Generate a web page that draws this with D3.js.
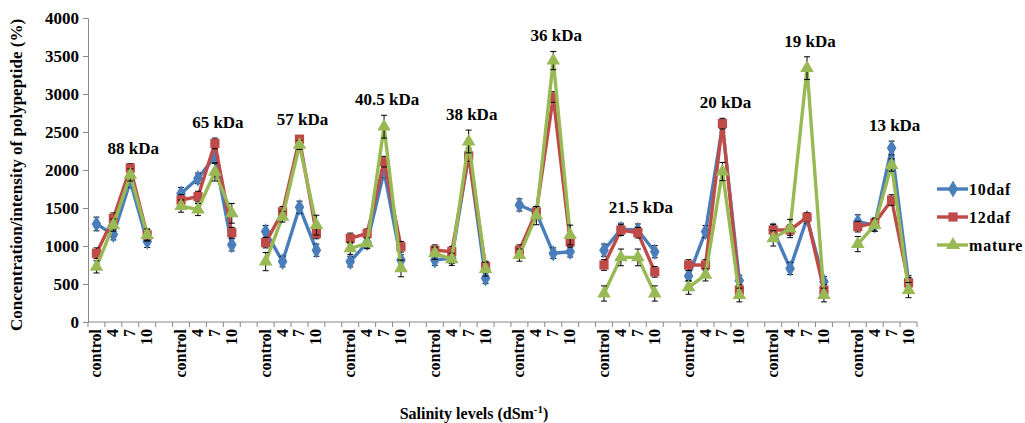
<!DOCTYPE html>
<html>
<head>
<meta charset="utf-8">
<script src="https://cdn.jsdelivr.net/npm/d3@7"></script>
<style>
    body { margin: 0; background: #fff; }
</style>
</head>
<body>
<div id="chart"></div>
<script>

// polypeptide bands (one group of salinity levels each)
let bands = ["88 kDa", "65 kDa", "57 kDa", "40.5 kDa", "38 kDa", "36 kDa", "21.5 kDa", "20 kDa", "19 kDa", "13 kDa"];
let levels = ["control", "4", "7", "10"];
let seriesNames = ["10daf", "12daf", "mature"];

// values, 4 per band in level order
let tenDaf = [
    1290, 1150, 1850, 1060,
    1690, 1890, 2175, 1015,
    1190, 795, 1510, 945,
    795, 1045, 1980, 815,
    815, 840, 2200, 575,
    1540, 1440, 905, 925,
    945, 1220, 1210, 925,
    605, 1190, 2580, 545,
    1210, 705, 1365, 530,
    1320, 1275, 2290, 530];
let twelveDaf = [
    905, 1365, 2025, 1145,
    1605, 1650, 2350, 1175,
    1045, 1450, 2405, 1165,
    1100, 1165, 2110, 990,
    945, 925, 2185, 730,
    945, 1450, 2960, 1055,
    750, 1210, 1175, 660,
    750, 750, 2610, 420,
    1210, 1210, 1380, 420,
    1255, 1300, 1605, 515];
let mature = [
    725, 1275, 1935, 1145,
    1525, 1480, 1975, 1430,
    795, 1385, 2330, 1275,
    970, 1035, 2570, 705,
    905, 825, 2375, 695,
    880, 1400, 3440, 1145,
    375, 850, 850, 375,
    455, 620, 1980, 355,
    1100, 1230, 3340, 355,
    1025, 1275, 2065, 420];

// error bar half lengths
let tenDafErr = [
    90, 70, 80, 80, 80, 70, 90, 80, 80, 70, 80, 80, 70, 70, 80, 70, 70, 70, 80, 70,
    80, 80, 70, 70, 80, 80, 80, 80, 70, 80, 80, 70, 80, 80, 70, 70, 90, 80, 90, 80];
let twelveDafErr = [
    70, 70, 60, 70, 70, 70, 70, 70, 70, 70, 50, 70, 70, 60, 70, 70, 70, 70, 70, 70,
    70, 70, 70, 70, 70, 70, 70, 70, 70, 70, 70, 70, 70, 70, 60, 70, 70, 70, 70, 70];
let matureErr = [
    80, 80, 80, 80, 80, 80, 120, 130, 120, 70, 60, 130, 80, 70, 150, 110, 80, 80, 150, 90,
    80, 120, 120, 130, 100, 110, 110, 100, 90, 80, 120, 90, 100, 120, 150, 90, 100, 80, 80, 100];

let yTicks = [0, 500, 1000, 1500, 2000, 2500, 3000, 3500, 4000];

let serif = "'Liberation Serif', 'DejaVu Serif', serif";


class LineChart {

    constructor(parentElement) {
        this.parentElement = parentElement;
        this.colors = ["#4a7ebb", "#be4b48", "#98b954"];
        this.shapes = [d3.symbolDiamond, d3.symbolSquare, d3.symbolTriangle];
        this.initVis();
    }

    initVis() {
        let vis = this;

        vis.width = 1025;
        vis.height = 423;
        vis.plot = {left: 88, right: 917, top: 18, bottom: 322};

        vis.svg = d3.select("#" + vis.parentElement).append("svg")
            .attr("width", vis.width)
            .attr("height", vis.height)
            .attr("font-family", serif)
            .attr("font-weight", "bold");

        // one slot per level, with a blank slot between bands
        vis.slots = [];
        bands.forEach((b, i) => {
            levels.forEach(l => vis.slots.push(b + "|" + l));
            if (i < bands.length - 1) vis.slots.push(b + "|gap");
        });

        vis.x = d3.scaleBand()
            .domain(vis.slots)
            .range([vis.plot.left, vis.plot.right]);

        vis.y = d3.scaleLinear()
            .domain([0, 4000])
            .range([vis.plot.bottom, vis.plot.top]);

        vis.wrangleData();
    }

    wrangleData() {
        let vis = this;
        let values = [tenDaf, twelveDaf, mature];
        let errs = [tenDafErr, twelveDafErr, matureErr];

        vis.displayData = seriesNames.map((name, s) => ({
            name: name,
            color: vis.colors[s],
            shape: vis.shapes[s],
            groups: bands.map((b, g) => levels.map((l, k) => ({
                slot: b + "|" + l,
                value: values[s][g * 4 + k],
                err: errs[s][g * 4 + k]
            })))
        }));

        vis.updateVis();
    }

    cx(slot) {
        return this.x(slot) + this.x.bandwidth() / 2;
    }

    updateVis() {
        let vis = this;

        // y axis
        let yAxis = d3.axisLeft(vis.y).tickValues(yTicks).tickSize(5).tickPadding(4).tickFormat(d3.format("d"));
        let yG = vis.svg.append("g")
            .attr("transform", `translate(${vis.plot.left},0)`)
            .call(yAxis)
            .attr("font-family", serif)
            .attr("font-size", 17);
        yG.selectAll("text").attr("fill", "#000");
        yG.selectAll("line, path").attr("stroke", "#888");

        // x axis, ticks between slots
        let xG = vis.svg.append("g").attr("class", "x-axis");
        xG.append("line")
            .attr("x1", vis.plot.left).attr("x2", vis.plot.right)
            .attr("y1", vis.plot.bottom).attr("y2", vis.plot.bottom)
            .attr("stroke", "#888");
        xG.selectAll(".xtick")
            .data(vis.slots.concat(["end"]))
            .enter().append("line")
            .attr("class", "xtick")
            .attr("x1", d => d === "end" ? vis.plot.right : vis.x(d))
            .attr("x2", d => d === "end" ? vis.plot.right : vis.x(d))
            .attr("y1", vis.plot.bottom).attr("y2", vis.plot.bottom + 5)
            .attr("stroke", "#888");
        xG.selectAll(".xlabel")
            .data(vis.slots.filter(d => !d.endsWith("|gap")))
            .enter().append("text")
            .attr("class", "xlabel")
            .attr("transform", d => `translate(${vis.cx(d) + 5},${vis.plot.bottom + 7}) rotate(-90)`)
            .attr("text-anchor", "end")
            .attr("font-size", 16)
            .text(d => d.split("|")[1]);

        // axis titles
        vis.svg.append("text")
            .attr("transform", "translate(22,175) rotate(-90)")
            .attr("text-anchor", "middle")
            .attr("font-size", 17)
            .text("Concentration/intensity  of polypeptide (%)");

        let xTitle = vis.svg.append("text")
            .attr("x", 474).attr("y", 419)
            .attr("text-anchor", "middle")
            .attr("font-size", 16);
        xTitle.append("tspan").text("Salinity  levels (dSm");
        xTitle.append("tspan").attr("dy", -6).attr("font-size", 11).text("-1");
        xTitle.append("tspan").attr("dy", 6).text(")");

        let line = d3.line().x(d => vis.cx(d.slot)).y(d => vis.y(d.value));

        vis.displayData.forEach(series => {
            let g = vis.svg.append("g").attr("class", "series");

            series.groups.forEach(pts => {
                g.append("path")
                    .datum(pts)
                    .attr("d", line)
                    .attr("fill", "none")
                    .attr("stroke", series.color)
                    .attr("stroke-width", 3.4)
                    .attr("stroke-linejoin", "round");
            });

            let all = series.groups.flat();

            // error bars
            let eb = g.selectAll(".err")
                .data(all)
                .enter().append("g")
                .attr("class", "err")
                .attr("stroke", "#000")
                .attr("stroke-width", 1);
            eb.append("line")
                .attr("x1", d => vis.cx(d.slot)).attr("x2", d => vis.cx(d.slot))
                .attr("y1", d => vis.y(d.value - d.err)).attr("y2", d => vis.y(d.value + d.err));
            eb.selectAll(".cap")
                .data(d => [d.value - d.err, d.value + d.err].map(v => ({slot: d.slot, v: v})))
                .enter().append("line")
                .attr("x1", d => vis.cx(d.slot) - 3).attr("x2", d => vis.cx(d.slot) + 3)
                .attr("y1", d => vis.y(d.v)).attr("y2", d => vis.y(d.v));

            // markers
            g.selectAll(".marker")
                .data(all)
                .enter().append("path")
                .attr("class", "marker")
                .attr("d", d3.symbol().type(series.shape).size(series.shape === d3.symbolSquare ? 85 : 80))
                .attr("transform", d => `translate(${vis.cx(d.slot)},${vis.y(d.value)})`)
                .attr("fill", series.color);
        });

        // band labels above each group's highest point
        let allSeries = vis.displayData;
        vis.svg.selectAll(".band-label")
            .data(bands)
            .enter().append("text")
            .attr("class", "band-label")
            .attr("x", (b, g) => vis.cx(b + "|7") + 3)
            .attr("y", (b, g) => {
                let top = d3.max(allSeries, s => d3.max(s.groups[g], d => d.value + d.err));
                return vis.y(top) - 10;
            })
            .attr("text-anchor", "middle")
            .attr("font-size", 17)
            .text(d => d);

        // legend
        let legend = vis.svg.selectAll(".legend")
            .data(allSeries)
            .enter().append("g")
            .attr("class", "legend")
            .attr("transform", (d, i) => `translate(937,${189 + i * 28})`);
        legend.append("line")
            .attr("x1", 0).attr("x2", 31)
            .attr("stroke", d => d.color)
            .attr("stroke-width", 3.4);
        legend.append("path")
            .attr("d", d => d3.symbol().type(d.shape).size(85)())
            .attr("transform", "translate(16,0)")
            .attr("fill", d => d.color);
        legend.append("text")
            .attr("x", 32).attr("dy", "0.35em")
            .attr("font-size", 16)
            .attr("letter-spacing", 0.8)
            .text(d => d.name);
    }
}

new LineChart("chart");

</script>
</body>
</html>
